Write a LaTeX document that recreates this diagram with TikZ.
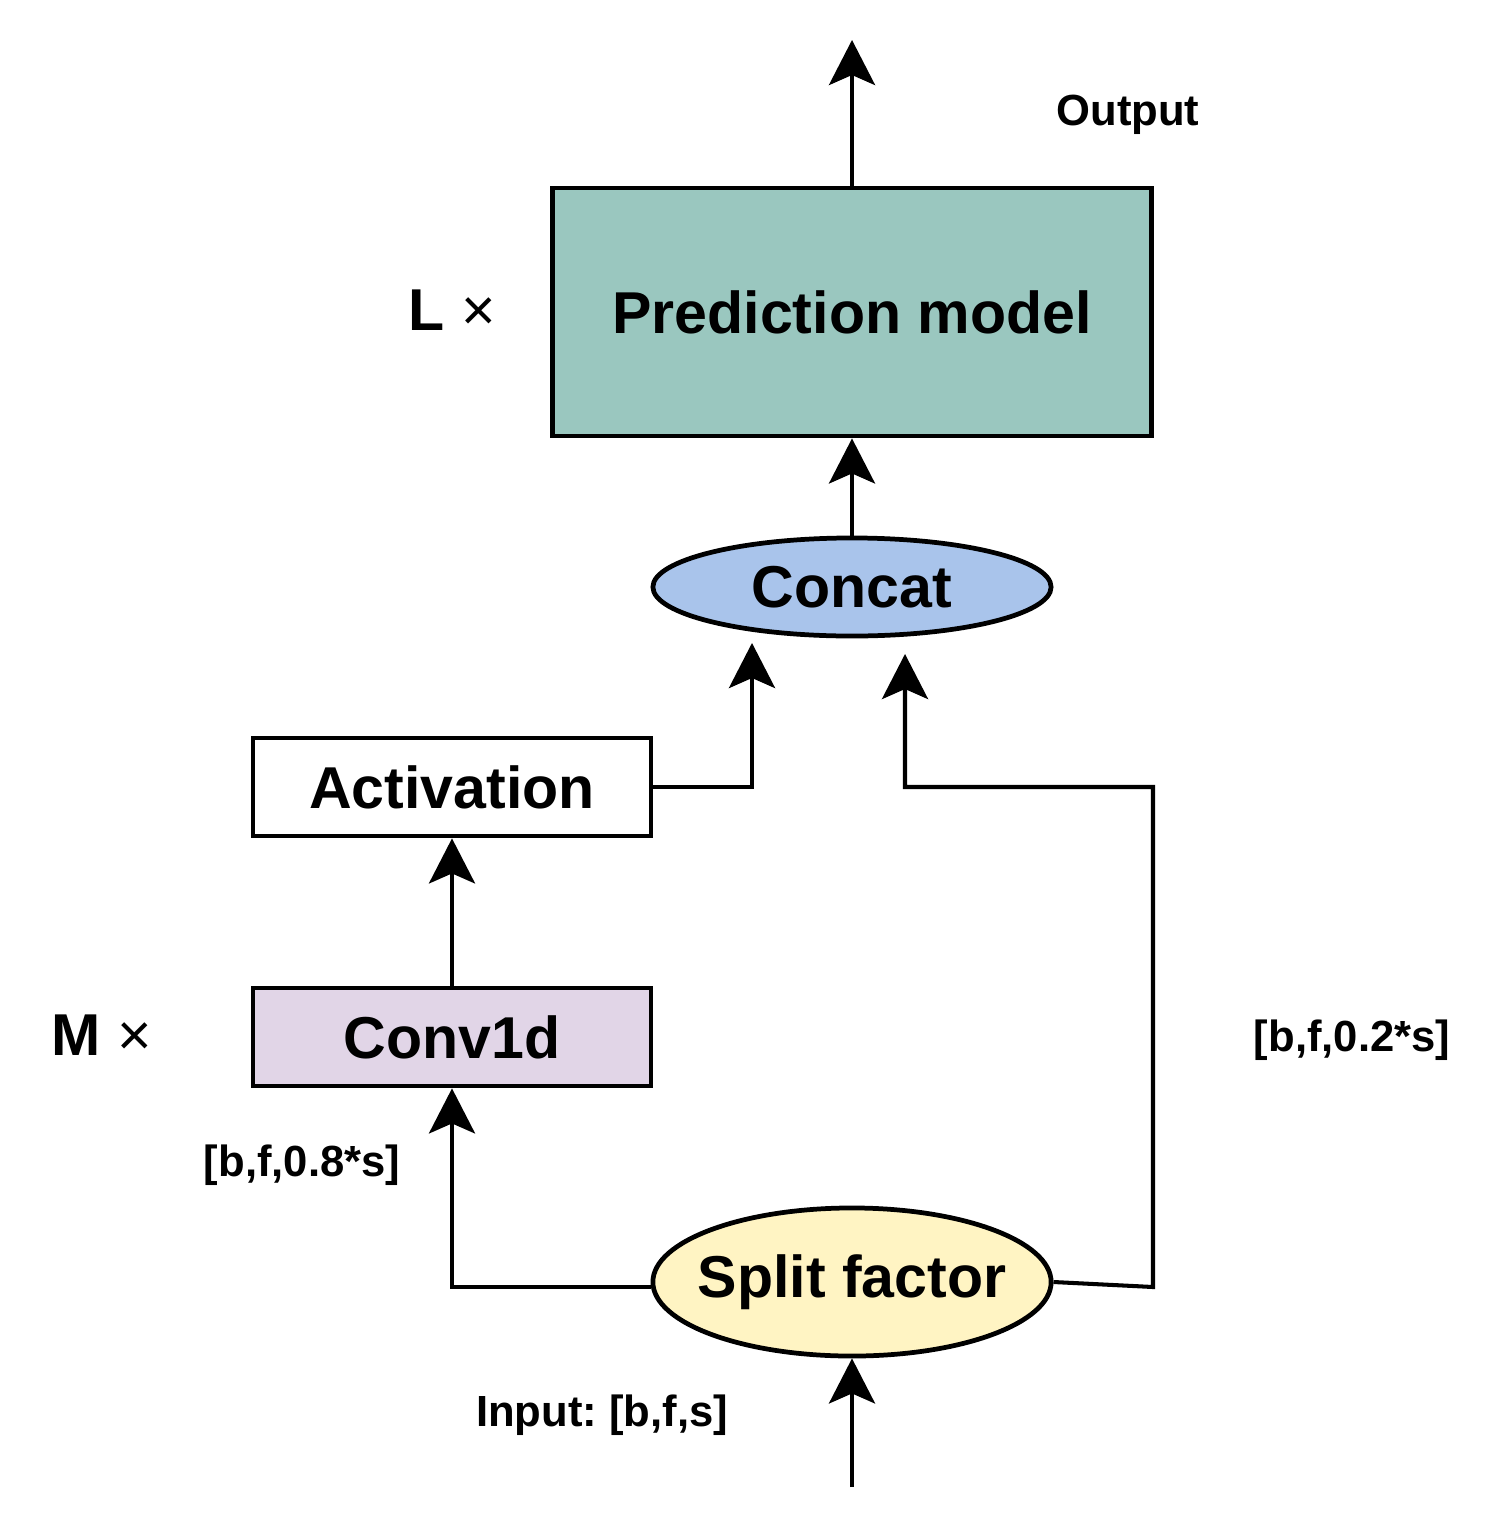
\documentclass[tikz,border=0pt]{standalone}
\usepackage{fontspec}
\setmainfont{Liberation Sans}
\usetikzlibrary{shapes.geometric,arrows.meta}
\definecolor{predfill}{HTML}{9AC7BF}
\definecolor{concatfill}{HTML}{A9C4EB}
\definecolor{convfill}{HTML}{E1D5E7}
\definecolor{splitfill}{HTML}{FFF4C3}
\frenchspacing
\tikzset{
    block/.style={rectangle, draw, line width=1.35pt, inner sep=0pt, font=\fontsize{16.8}{20}\selectfont\bfseries},
    oval/.style={ellipse, draw, line width=1.35pt, inner sep=0pt, font=\fontsize{16.8}{20}\selectfont\bfseries},
    lbl/.style={font=\fontsize{12.4}{15}\selectfont\bfseries},
    conn/.style={line width=1.15pt, -{Stealth[length=4.5mm, width=4.6mm, inset=1mm]}}
}
\begin{document}
\begin{tikzpicture}[x=0.01cm, y=-0.01cm]
        \useasboundingbox (0,0) rectangle (1500,1530);
        % Blocks
        \node[block, fill=predfill, minimum width=5.98cm, minimum height=2.48cm] (pred) at (852, 312) {Prediction model};
        \node[oval, fill=concatfill, minimum width=3.98cm, minimum height=0.98cm] (concat) at (852, 587) {Concat};
        \node[block, minimum width=3.98cm, minimum height=0.98cm] (act) at (452, 787) {Activation};
        \node[block, fill=convfill, minimum width=3.98cm, minimum height=0.98cm] (conv) at (452, 1037) {Conv1d};
        \node[oval, fill=splitfill, inner xsep=-1.5mm, minimum width=3.98cm, minimum height=1.48cm] (split) at (852, 1282) {Split factor};
        
        % Labels
        \node[lbl] (outlbl) at (1128, 115) {Output};
        \node[lbl] (inlbl) at (602, 1415) {Input: [b,f,s]};
        \node[lbl] (leftlbl) at (302, 1165) {[b,f,0.8*s]};
        \node[lbl] (rightlbl) at (1352, 1040) {[b,f,0.2*s]};
        \node[font=\fontsize{16.8}{20}\selectfont] (lrep) at (452, 310) {\textbf{L} ×};
        \node[font=\fontsize{16.8}{20}\selectfont] (mrep) at (102, 1035) {\textbf{M} ×};
        
        % Free ends
        \coordinate (out) at (852, 40);
        \coordinate (in) at (852, 1487);
        \coordinate (acttip) at (752, 643);
        \coordinate (skiptip) at (905, 654);
        \coordinate (skipa) at (1153, 1287);
        \coordinate (skipb) at (1153, 787);
        
        % Connectors
        \draw[conn] (pred.north) -- (out);
        \draw[conn] (concat.north) -- (pred.south);
        \draw[conn] (act.east) -| (acttip);
        \draw[conn] (conv.north) -- (act.south);
        \draw[conn] ([yshift=-5*0.01cm]split.west) -| (conv.south);
        \draw[conn] (split.east) -- (skipa) -- (skipb) -| (skiptip);
        \draw[conn] (in) -- (split.south);
    \end{tikzpicture}
\end{document}
